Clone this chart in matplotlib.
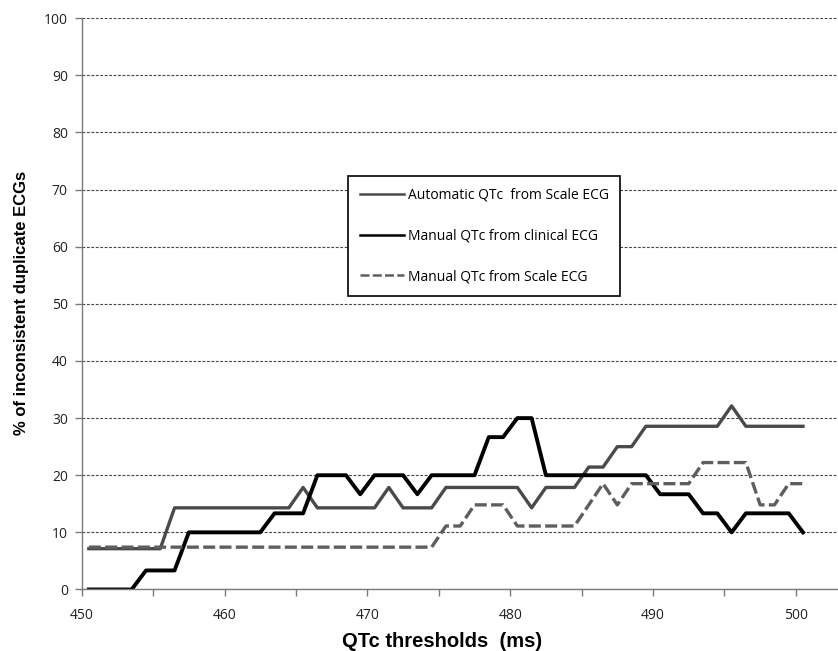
import numpy as np
import matplotlib
matplotlib.use("Agg")
import matplotlib.pyplot as plt

# QTc thresholds (ms) and % of inconsistent duplicate ECGs per method
thresholds = np.arange(450, 501)

auto_scale = [
    7.14, 7.14, 7.14, 7.14, 7.14, 7.14,
    14.29, 14.29, 14.29, 14.29, 14.29, 14.29, 14.29, 14.29, 14.29,
    17.86, 14.29, 14.29, 14.29, 14.29, 14.29, 17.86,
    14.29, 14.29, 14.29, 17.86, 17.86, 17.86, 17.86, 17.86, 17.86,
    14.29, 17.86, 17.86, 17.86, 21.43, 21.43, 25.00, 25.00,
    28.57, 28.57, 28.57, 28.57, 28.57, 28.57, 32.14,
    28.57, 28.57, 28.57, 28.57, 28.57,
]

manual_clinical = [
    0, 0, 0, 0, 3.33, 3.33, 3.33,
    10, 10, 10, 10, 10, 10,
    13.33, 13.33, 13.33, 20, 20, 20, 16.67,
    20, 20, 20, 16.67, 20, 20, 20, 20,
    26.67, 26.67, 30, 30,
    20, 20, 20, 20, 20, 20, 20, 20,
    16.67, 16.67, 16.67, 13.33, 13.33, 10,
    13.33, 13.33, 13.33, 13.33, 10,
]

manual_scale = [
    7.41, 7.41, 7.41, 7.41, 7.41, 7.41, 7.41, 7.41, 7.41, 7.41,
    7.41, 7.41, 7.41, 7.41, 7.41, 7.41, 7.41, 7.41, 7.41, 7.41,
    7.41, 7.41, 7.41, 7.41, 7.41,
    11.11, 11.11, 14.81, 14.81, 14.81,
    11.11, 11.11, 11.11, 11.11, 11.11,
    14.81, 18.52, 14.81, 18.52, 18.52, 18.52, 18.52, 18.52,
    22.22, 22.22, 22.22, 22.22, 14.81, 14.81, 18.52, 18.52,
]

labels = ["Automatic QTc  from Scale ECG",
          "Manual QTc from clinical ECG",
          "Manual QTc from Scale ECG"]

tick_font = "Open Sans"

fig = plt.figure(figsize=(8.38, 6.51), dpi=100)
ax = fig.add_axes([0.0975, 0.0945, 0.9025, 0.8775])

# category centres sit half a step right of each tick (Excel style)
xpos = thresholds + 0.5
ax.plot(xpos, auto_scale, color="#4a4a4a", lw=2.4, label=labels[0])
ax.plot(xpos, manual_clinical, color="black", lw=2.8, label=labels[1])
ax.plot(xpos, manual_scale, color="#5e5e5e", lw=2.4, ls=(0, (3.6, 1.3)),
        label=labels[2])

ax.set_xlim(450, 502.95)
ax.set_ylim(0, 100)
ax.set_yticks(np.arange(0, 101, 10))
ax.set_xticks(np.arange(450, 501, 10))
ax.set_xticks(np.arange(450, 501, 5), minor=True)

ax.yaxis.grid(True, color="#444444", lw=0.8, ls=(0, (2.5, 1.5)))
ax.set_axisbelow(True)

for s in ["top", "right"]:
    ax.spines[s].set_visible(False)
for s in ["left", "bottom"]:
    ax.spines[s].set_color("#7a7a7a")
    ax.spines[s].set_linewidth(1.0)

ax.tick_params(axis="both", which="both", direction="out", length=5,
               width=1.0, color="#7a7a7a", labelcolor="#222222")
ax.tick_params(axis="x", pad=8)
ax.tick_params(axis="y", pad=5)
for t in ax.get_xticklabels() + ax.get_yticklabels():
    t.set_family(tick_font)
    t.set_fontsize(10)

fig.text(0.026, 0.535, "% of inconsistent duplicate ECGs", rotation=90,
         ha="center", va="center", fontsize=12, fontweight="bold",
         family="Liberation Sans")
fig.text(0.527, 0.015, "QTc thresholds  (ms)", ha="center", va="center",
         fontsize=14.5, fontweight="bold",
         family=["Liberation Sans Narrow", "Liberation Sans"])

leg = ax.legend(loc="upper left", bbox_to_anchor=(0.352, 0.724),
                frameon=True, fancybox=False, borderaxespad=0,
                handlelength=3.2, handletextpad=0.25, labelspacing=1.85,
                borderpad=0.85, prop={"family": tick_font, "size": 10})
leg.get_frame().set_edgecolor("black")
leg.get_frame().set_linewidth(1.2)
leg.get_frame().set_alpha(1)
for line in leg.get_lines():
    line.set_linewidth(1.8)

fig.savefig("out.png", dpi=100)
